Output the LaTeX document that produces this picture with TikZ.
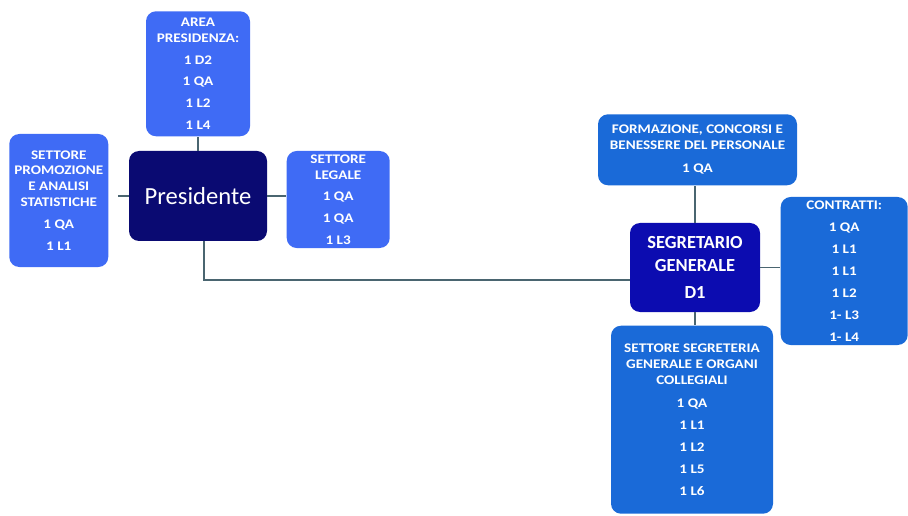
\documentclass[tikz,border=0pt]{standalone}
\usepackage{fontspec}
\setmainfont{Carlito}
\newfontfamily\boxfont{Carlito}[FakeStretch=1.15]
\usetikzlibrary{positioning}

\definecolor{lightblue}{HTML}{3F6BF5}
\definecolor{midblue}{HTML}{1A6AD8}
\definecolor{navy}{HTML}{0A0A72}
\definecolor{deepblue}{HTML}{0C0CB0}
\definecolor{linkgray}{HTML}{4A6570}

\tikzset{
  box/.style={rectangle, rounded corners=0.2cm, text=white, align=center,
    inner sep=1pt, font=\boxfont\bfseries\fontsize{7.5}{9}\selectfont},
  sector/.style={box, fill=lightblue},
  office/.style={box, fill=midblue},
  link/.style={draw=linkgray, line width=0.9pt}
}

\begin{document}
\begin{tikzpicture}
        \useasboundingbox (0,0) rectangle (18.16,10.30);

        \node[box, fill=navy, minimum width=2.76cm, minimum height=1.80cm,
              font=\fontsize{14}{16}\selectfont] (n1) at (3.96,6.38) {Presidente};
        \node[sector, minimum width=2.08cm, minimum height=2.50cm] (n2) [above=0.28cm of n1]
          {AREA\\PRESIDENZA:\\[3.5pt]1 D2\\[3.5pt]1 QA\\[3.5pt]1 L2\\[3.5pt]1 L4};
        \node[sector, minimum width=1.98cm, minimum height=2.66cm] (n3) [left=0.4cm of n1, yshift=-0.09cm]
          {SETTORE\\PROMOZIONE\\E ANALISI\\STATISTICHE\\[3.5pt]1 QA\\[3.5pt]1 L1};
        \node[sector, minimum width=2.06cm, minimum height=1.94cm] (n4) [right=0.38cm of n1, yshift=-0.07cm]
          {SETTORE\\LEGALE\\[3pt]1 QA\\[3.5pt]1 QA\\[3.5pt]1 L3};

        \node[box, fill=deepblue, minimum width=2.60cm, minimum height=1.78cm,
              font=\bfseries\fontsize{10.5}{13}\selectfont] (n5) at (13.90,4.95)
          {SEGRETARIO\\GENERALE\\[2.3pt]D1};
        \node[office, minimum width=3.98cm, minimum height=1.42cm] (n6) [above=0.74cm of n5, xshift=0.05cm]
          {FORMAZIONE, CONCORSI E\\BENESSERE DEL PERSONALE\\[4pt]1 QA};
        \node[office, minimum width=2.54cm, minimum height=2.96cm] (n7) [right=0.4cm of n5, yshift=-0.07cm]
          {CONTRATTI:\\[3.5pt]1 QA\\[3.5pt]1 L1\\[3.5pt]1 L1\\[3.5pt]1 L2\\[3.5pt]1- L3\\[3.5pt]1- L4};
        \node[office, minimum width=3.24cm, minimum height=3.76cm] (n8) [below=0.26cm of n5, xshift=-0.06cm]
          {SETTORE SEGRETERIA\\GENERALE E ORGANI\\COLLEGIALI\\[4.5pt]1 QA\\[3.5pt]1 L1\\[3.5pt]1 L2\\[3.5pt]1 L5\\[3.5pt]1 L6};

        \draw[link] (n1.north) -- (n1.north |- n2.south);
        \draw[link, shorten >=0.18cm] (n1.west) -- (n3.east |- n1.west);
        \draw[link] (n1.east) -- (n4.west |- n1.east);
        \draw[link] ([xshift=0.12cm]n1.south) |- ([yshift=-0.25cm]n5.west);

        \draw[link] (n5.north) -- (n5.north |- n6.south);
        \draw[link] (n5.east) -- (n7.west |- n5.east);
        \draw[link] (n5.south) -- (n5.south |- n8.north);
      \end{tikzpicture}
\end{document}
